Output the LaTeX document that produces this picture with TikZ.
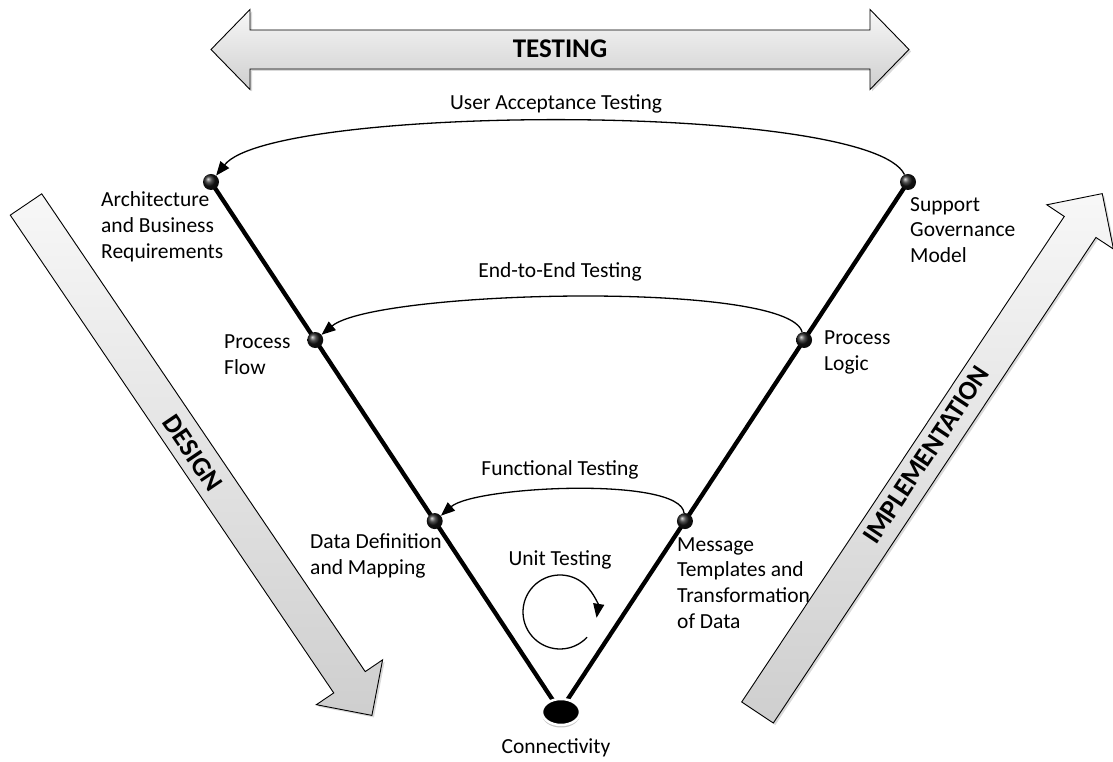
\documentclass[tikz,border=0pt]{standalone}
\usepackage{fontspec}
\setmainfont{Carlito}
\usetikzlibrary{arrows.meta,shadows,shapes.geometric}

\begin{document}
\begin{tikzpicture}[x=1pt,y=1pt,
  lbl/.style={font=\fontsize{21.5}{25.8}\selectfont, inner sep=0pt, align=left, anchor=west},
  ttl/.style={font=\fontsize{21.5}{25}\selectfont, inner sep=0pt},
  bold/.style={font=\fontsize{27}{30}\selectfont\bfseries, inner sep=0pt},
  bigarrow/.style={draw=black, line width=0.9pt, top color=gray!6, bottom color=gray!38,
    drop shadow={opacity=0.3, shadow xshift=2pt, shadow yshift=-2pt}},
  ball/.style={circle, inner sep=0pt, minimum size=16pt, shading=ball, ball color=black!90},
  vline/.style={line width=4.3pt},
  testarc/.style={line width=1.3pt, -{Triangle[length=14pt,width=11pt]}}]
\useasboundingbox (0,0) rectangle (1113,762);

% phase arrows
\draw[bigarrow] (211,712.5) -- (250,752.5) -- (250,732) -- (870,732) -- (870,752.5)
  -- (909,712.5) -- (870,672.5) -- (870,693) -- (250,693) -- (250,672.5) -- cycle;
\node[bold] (testing) at (560,713) {TESTING};

\begin{scope}[shift={(26,557.5)}, rotate=-55.9]
  \draw[bigarrow] (0,-19) -- (577,-19) -- (577,-40) -- (617,0) -- (577,40) -- (577,19) -- (0,19) -- cycle;
\end{scope}
\node[bold, rotate=-55.9] (design) at (193,309) {DESIGN};

\begin{scope}[shift={(757.5,49.5)}, rotate=56.4]
  \draw[bigarrow] (0,-19) -- (583,-19) -- (583,-40) -- (623,0) -- (583,40) -- (583,19) -- (0,19) -- cycle;
\end{scope}
\node[bold, rotate=56.4] (impl) at (926,307) {IMPLEMENTATION};

% the V
\coordinate (pa1) at (211,580);
\coordinate (ps1) at (908,580);
\coordinate (pc) at (560,51);
\path (pa1) -- (pc) coordinate[pos=0.2987] (pa2) coordinate[pos=0.641] (pa3);
\path (ps1) -- (pc) coordinate[pos=0.2987] (ps2) coordinate[pos=0.641] (ps3);
\draw[vline] (pa1) -- (pc);
\draw[vline] (ps1) -- (pc);

\node[ball] (a1) at (pa1) {};
\node[ball] (a2) at (pa2) {};
\node[ball] (a3) at (pa3) {};
\node[ball] (s1) at (ps1) {};
\node[ball] (s2) at (ps2) {};
\node[ball] (s3) at (ps3) {};
\node[ellipse, fill=black, draw=white, line width=2.5pt, minimum width=38pt, minimum height=26pt,
  drop shadow={opacity=0.45, shadow xshift=0pt, shadow yshift=-2.5pt}] (conn) at (561,50) {};

% testing loops
\draw[testarc] (s1) .. controls +(-38,80) and +(62,78) .. (a1);
\draw[testarc] (s2) .. controls +(-15,60) and +(60,50) .. (a2);
\draw[testarc] (s3) .. controls +(-5,45) and +(40,35) .. (a3);
\coordinate (uc) at (560,150);
\draw[testarc] (uc) ++(-43:37) arc[start angle=-43, end angle=-369, radius=37];

% labels
\node[ttl] (uat) at (556,658) {User Acceptance Testing};
\node[ttl] (e2e) at (560,490) {End-to-End Testing};
\node[ttl] (func) at (560,292) {Functional Testing};
\node[ttl] (unit) at (560,202) {Unit Testing};
\node[ttl] (connl) at (556,14) {Connectivity};

\node[lbl] (la1) at (101,535) {Architecture\\and Business\\Requirements};
\node[lbl] (la2) at (224,407) {Process\\Flow};
\node[lbl] (la3) at (310,206) {Data Definition\\and Mapping};
\node[lbl] (ls1) at (910,532) {Support\\Governance\\Model};
\node[lbl] (ls2) at (824,409.5) {Process\\Logic};
\node[lbl] (ls3) at (677,179) {Message\\Templates and\\Transformation\\of Data};
\end{tikzpicture}
\end{document}
